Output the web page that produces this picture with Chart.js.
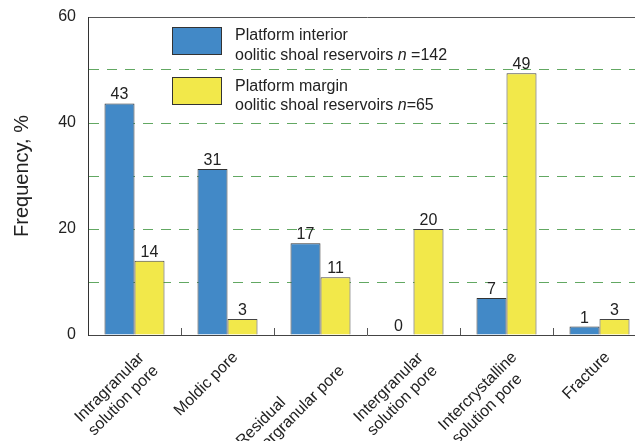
<!DOCTYPE html>
<html>
<head>
<meta charset="utf-8">
<script src="https://cdn.jsdelivr.net/npm/chart.js@4"></script>
<style>
  html, body { margin: 0; padding: 0; background: #fff; overflow: hidden; }
</style>
</head>
<body>
<canvas id="poreChart" width="646" height="441"></canvas>
<script>
// categories (x axis), one line per array item
const categories = [
  ['Intragranular', 'solution pore'],
  ['Moldic pore'],
  ['Residual', 'intergranular pore'],
  ['Intergranular', 'solution pore'],
  ['Intercrystalline', 'solution pore'],
  ['Fracture']
];

// bar heights as drawn, and the numbers printed above them
const interiorValues = [43.7, 31.3, 17.3, 0, 7, 1.6];
const marginValues = [14, 3, 10.9, 20, 49.4, 3];
const interiorLabels = ['43', '31', '17', '0', '7', '1'];
const marginLabels = ['14', '3', '11', '20', '49', '3'];

const yLabelTicks = [0, 20, 40, 60];

const seriesTitles = ['Platform interior', 'Platform margin'];
const seriesSubtitle = 'oolitic shoal reservoirs ';
const seriesN = [' =142', '=65'];

const FONT = '"Liberation Sans", Arial, sans-serif';
const BLUE = '#4289c7';
const YELLOW = '#f2e84a';

// value numbers above each bar
const barValues = {
  id: 'barValues',
  afterDatasetsDraw(chart) {
    const ctx = chart.ctx;
    ctx.save();
    ctx.font = '16px ' + FONT;
    ctx.fillStyle = '#222';
    ctx.textAlign = 'center';
    ctx.textBaseline = 'alphabetic';
    chart.data.datasets.forEach((ds, di) => {
      chart.getDatasetMeta(di).data.forEach((bar, i) => {
        ctx.fillText(ds.valueLabels[i], bar.x, bar.y - 4);
      });
    });
    ctx.restore();
  }
};

// small ticks between categories + rotated, left aligned category names
const xAxisExtras = {
  id: 'xAxisExtras',
  afterDraw(chart) {
    const ctx = chart.ctx;
    const x = chart.scales.x;
    const bottom = chart.chartArea.bottom;
    ctx.save();
    ctx.strokeStyle = '#555';
    ctx.lineWidth = 1;
    for (let i = 1; i < categories.length; i++) {
      const px = Math.round((x.getPixelForValue(i - 1) + x.getPixelForValue(i)) / 2) + 0.5;
      ctx.beginPath();
      ctx.moveTo(px, bottom);
      ctx.lineTo(px, bottom - 7);
      ctx.stroke();
    }

    ctx.font = '16px ' + FONT;
    ctx.fillStyle = '#222';
    ctx.textAlign = 'left';
    ctx.textBaseline = 'alphabetic';
    chart.data.labels.forEach((lines, i) => {
      const cx = x.getPixelForValue(i);
      const maxW = Math.max(...lines.map(l => ctx.measureText(l).width));
      ctx.save();
      ctx.translate(cx + 11, bottom + 23);
      ctx.rotate(-Math.PI / 4);
      lines.forEach((line, j) => {
        ctx.fillText(line, -maxW, j * 19);
      });
      ctx.restore();
    });
    ctx.restore();
  }
};

// legend boxes with two line text and italic n
const boxLegend = {
  id: 'boxLegend',
  afterDraw(chart) {
    const ctx = chart.ctx;
    const rows = [
      { box: 27, l1: 40, l2: 60 },
      { box: 77, l1: 91, l2: 110 }
    ];
    ctx.save();
    chart.data.datasets.forEach((ds, i) => {
      const r = rows[i];
      ctx.fillStyle = ds.backgroundColor;
      ctx.fillRect(172, r.box, 49, 27);
      ctx.strokeStyle = '#333';
      ctx.lineWidth = 1;
      ctx.strokeRect(172.5, r.box + 0.5, 49, 27);

      ctx.fillStyle = '#222';
      ctx.textAlign = 'left';
      ctx.textBaseline = 'alphabetic';
      ctx.font = '16px ' + FONT;
      ctx.fillText(seriesTitles[i], 235, r.l1);
      let tx = 235;
      ctx.fillText(seriesSubtitle, tx, r.l2);
      tx += ctx.measureText(seriesSubtitle).width;
      ctx.font = 'italic 16px ' + FONT;
      ctx.fillText('n', tx, r.l2);
      tx += ctx.measureText('n').width;
      ctx.font = '16px ' + FONT;
      ctx.fillText(seriesN[i], tx, r.l2);
    });
    ctx.restore();
  }
};

new Chart(document.getElementById('poreChart'), {
  type: 'bar',
  data: {
    labels: categories,
    datasets: [
      {
        label: seriesTitles[0],
        data: interiorValues,
        valueLabels: interiorLabels,
        backgroundColor: BLUE,
        borderColor: '#333',
        borderWidth: 1,
        borderSkipped: 'bottom'
      },
      {
        label: seriesTitles[1],
        data: marginValues,
        valueLabels: marginLabels,
        backgroundColor: YELLOW,
        borderColor: '#444',
        borderWidth: 1,
        borderSkipped: 'bottom'
      }
    ]
  },
  options: {
    responsive: false,
    animation: false,
    devicePixelRatio: 1,
    layout: { padding: { top: 17, right: 0, left: 0, bottom: 0 } },
    datasets: {
      bar: { categoryPercentage: 0.645, barPercentage: 1.0 }
    },
    plugins: {
      legend: { display: false },
      tooltip: { enabled: false }
    },
    scales: {
      x: {
        grid: { display: false },
        border: { display: true, color: '#444', width: 1 },
        ticks: { display: false },
        afterFit(scale) { scale.height = 106; }
      },
      y: {
        min: 0,
        max: 60,
        ticks: {
          stepSize: 10,
          padding: 0,
          color: '#222',
          font: { family: FONT, size: 16 },
          callback: v => (yLabelTicks.includes(v) ? String(v) : '')
        },
        grid: {
          drawTicks: true,
          tickLength: 12,
          tickColor: 'rgba(0,0,0,0)',
          lineWidth: 1,
          color: ctx => {
            const v = ctx.tick ? ctx.tick.value : null;
            if (v === 0) return 'rgba(0,0,0,0)';
            if (v === 60) return '#555';
            return '#62a862';
          }
        },
        border: {
          display: true,
          color: '#333',
          width: 1,
          dash: ctx => (ctx.tick && ctx.tick.value > 0 && ctx.tick.value < 60 ? [10, 8] : [])
        },
        title: {
          display: true,
          text: 'Frequency, %',
          color: '#222',
          font: { family: FONT, size: 20 },
          padding: { top: 10, bottom: 0 }
        },
        afterFit(scale) { scale.width = 88; }
      }
    }
  },
  plugins: [barValues, xAxisExtras, boxLegend]
});
</script>
</body>
</html>
